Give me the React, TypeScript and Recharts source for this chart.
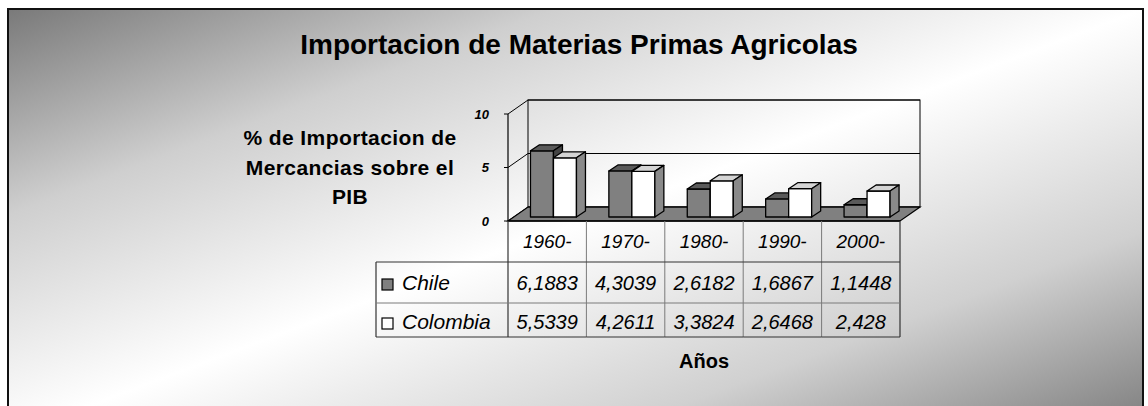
import React from 'react';
import { BarChart, Bar, XAxis, YAxis, CartesianGrid, ReferenceArea } from 'recharts';

// ---------- data ----------
const categories = ['1960-', '1970-', '1980-', '1990-', '2000-'];
const chileValues = [6.1883, 4.3039, 2.6182, 1.6867, 1.1448];
const colombiaValues = [5.5339, 4.2611, 3.3824, 2.6468, 2.428];
const seriesNames = ['Chile', 'Colombia'];
const yTicks = [0, 5, 10];
const yDomain = [0, 10];

const TITLE = 'Importacion de Materias Primas Agricolas';
const Y_TITLE_LINES = ['% de Importacion de', 'Mercancias sobre el', 'PIB'];
const X_TITLE = 'Años';

const data = categories.map((c, i) => ({ name: c, chile: chileValues[i], colombia: colombiaValues[i] }));

// ---------- style constants ----------
const FONT = '"Liberation Sans", Arial, Helvetica, sans-serif';
const DX = 20; // 3D box depth
const DY = -14;
const FX = 6; // bar front plane shift
const FY = -4;
const BX = 9; // bar depth
const BY = -6;
const LEGEND_W = 132;
const ROW_H = [41, 41, 34];

const fmt = (v: number) => String(v).replace('.', ',');

const make3DBar = (front: string, top: string, side: string) => (props: any) => {
  const { x, y, width, height } = props;
  if (x == null || y == null || !width || height == null) return <g />;
  const fx = x + FX;
  const fy = y + FY;
  const w = width;
  const h = height;
  return (
    <g stroke="#000" strokeWidth={1.3} strokeLinejoin="round">
      <rect x={fx} y={fy} width={w} height={h} fill={front} />
      <polygon points={`${fx},${fy} ${fx + BX},${fy + BY} ${fx + w + BX},${fy + BY} ${fx + w},${fy}`} fill={top} />
      <polygon
        points={`${fx + w},${fy} ${fx + w + BX},${fy + BY} ${fx + w + BX},${fy + h + BY} ${fx + w},${fy + h}`}
        fill={side}
      />
    </g>
  );
};

const chileShape = make3DBar('#808080', '#5a5a5a', '#444444');
const colombiaShape = make3DBar('#ffffff', '#d4d4d4', '#8a8a8a');

const gridLine = (props: any) => {
  const { x1, x2, y1, key } = props;
  return (
    <g key={key}>
      <line x1={x1} y1={y1} x2={x1 + DX} y2={y1 + DY} stroke="#000" strokeWidth={1} />
      <line x1={x1 + DX} y1={y1 + DY} x2={x2 + DX} y2={y1 + DY} stroke="#000" strokeWidth={1} />
    </g>
  );
};

const wallShape = (props: any) => {
  const { x, y, width, height } = props;
  const b = y + height;
  return (
    <g>
      <polygon
        points={`${x},${b} ${x + width},${b} ${x + width + DX},${b + DY} ${x + DX},${b + DY}`}
        fill="#808080"
        stroke="#000"
        strokeWidth={1.2}
      />
      <rect x={x + DX} y={y + DY} width={width} height={height} fill="none" stroke="#000" strokeWidth={1} />
    </g>
  );
};

const TableTick = (props: any) => {
  const { x, y, payload, index } = props;
  const half = payload && payload.offset ? payload.offset : 39.2;
  const i = payload && payload.index != null ? payload.index : index;
  const left = x - half;
  const right = x + half;
  const r1 = y + ROW_H[0];
  const r2 = r1 + ROW_H[1];
  const r3 = r2 + ROW_H[2];
  const last = i === categories.length - 1;
  const textStyle = { fontFamily: FONT, fontStyle: 'italic' as const, fontSize: 19, fill: '#000' };
  const dark = '#333';
  const gray = '#7a7a7a';
  return (
    <g>
      {i === 0 && (
        <g>
          <line x1={left} y1={y} x2={left} y2={r3} stroke={dark} strokeWidth={1.2} />
          <line x1={left - LEGEND_W} y1={r1} x2={left - LEGEND_W} y2={r3} stroke={dark} strokeWidth={1.2} />
          <line x1={left - LEGEND_W} y1={r1} x2={left} y2={r1} stroke={dark} strokeWidth={1.2} />
          <line x1={left - LEGEND_W} y1={r2} x2={left} y2={r2} stroke={gray} strokeWidth={1} />
          <line x1={left - LEGEND_W} y1={r3} x2={left} y2={r3} stroke={dark} strokeWidth={1.2} />
          <rect x={left - LEGEND_W + 6} y={r1 + 17} width={11} height={11} fill="#808080" stroke="#000" strokeWidth={1.2} />
          <rect x={left - LEGEND_W + 6} y={r2 + 15} width={11} height={11} fill="#ffffff" stroke="#000" strokeWidth={1.2} />
          <text x={left - LEGEND_W + 26} y={r1 + 28} {...textStyle} fontSize={21}>
            {seriesNames[0]}
          </text>
          <text x={left - LEGEND_W + 26} y={r2 + 26} {...textStyle} fontSize={21}>
            {seriesNames[1]}
          </text>
        </g>
      )}
      <line x1={right} y1={y} x2={right} y2={r3} stroke={last ? dark : gray} strokeWidth={last ? 1.2 : 1} />
      <line x1={left} y1={r1} x2={right} y2={r1} stroke={dark} strokeWidth={1.2} />
      <line x1={left} y1={r2} x2={right} y2={r2} stroke={gray} strokeWidth={1} />
      <line x1={left} y1={r3} x2={right} y2={r3} stroke={dark} strokeWidth={1.2} />
      <text x={x} y={y + 27} textAnchor="middle" {...textStyle}>
        {payload.value}
      </text>
      <text x={x} y={r1 + 28} textAnchor="middle" {...textStyle} fontSize={20}>
        {fmt(chileValues[i])}
      </text>
      <text x={x} y={r2 + 26} textAnchor="middle" {...textStyle} fontSize={20}>
        {fmt(colombiaValues[i])}
      </text>
    </g>
  );
};

export default function App() {
  return (
    <div
      style={{
        position: 'absolute',
        left: 0,
        top: 0,
        width: 1148,
        height: 406,
        overflow: 'hidden',
        background: '#fff',
      }}
    >
      <div
        style={{
          position: 'absolute',
          left: 7,
          top: 8,
          width: 1137,
          height: 430,
          boxSizing: 'border-box',
          border: '2px solid #111',
          background:
            'linear-gradient(to bottom right, #7a7a7a 0%, #cfcfcf 24%, #ffffff 50%, #d0d0d0 76%, #7a7a7a 100%)',
        }}
      />
      <div style={{ position: 'absolute', left: 0, top: 0 }}>
        <BarChart
          width={1148}
          height={406}
          data={data}
          margin={{ top: 114, right: 248, bottom: 0, left: 448 }}
          barCategoryGap="21%"
          barGap={0}
          style={{ fontFamily: FONT }}
        >
          <CartesianGrid vertical={false} horizontal={gridLine} />
          <ReferenceArea y1={0} y2={10} shape={wallShape} />
          <XAxis
            dataKey="name"
            height={185}
            interval={0}
            tickLine={false}
            tickSize={0}
            tickMargin={0}
            axisLine={{ stroke: '#000', strokeWidth: 1.3 }}
            tick={(p: any) => <TableTick {...p} />}
          />
          <YAxis
            width={60}
            domain={yDomain}
            ticks={yTicks}
            tickSize={4}
            tickMargin={15}
            axisLine={{ stroke: '#000', strokeWidth: 1.2 }}
            tickLine={{ stroke: '#000', strokeWidth: 1 }}
            tick={{ fontSize: 13, fontWeight: 'bold', fontStyle: 'italic', fill: '#000', fontFamily: FONT }}
          />
          <Bar dataKey="chile" name={seriesNames[0]} fill="#808080" shape={chileShape} isAnimationActive={false} />
          <Bar dataKey="colombia" name={seriesNames[1]} fill="#ffffff" shape={colombiaShape} isAnimationActive={false} />
        </BarChart>
      </div>
      <svg
        width={1148}
        height={406}
        style={{ position: 'absolute', left: 0, top: 0, pointerEvents: 'none', fontFamily: FONT }}
      >
        <text x={579} y={54} textAnchor="middle" fontSize={28} fontWeight="bold" fill="#000">
          {TITLE}
        </text>
        {Y_TITLE_LINES.map((l, k) => (
          <text key={k} x={350} y={145 + k * 29.5} textAnchor="middle" fontSize={21} fontWeight="bold" letterSpacing={0.4} fill="#000">
            {l}
          </text>
        ))}
        <text x={704} y={368} textAnchor="middle" fontSize={20} fontWeight="bold" fill="#000">
          {X_TITLE}
        </text>
      </svg>
    </div>
  );
}
